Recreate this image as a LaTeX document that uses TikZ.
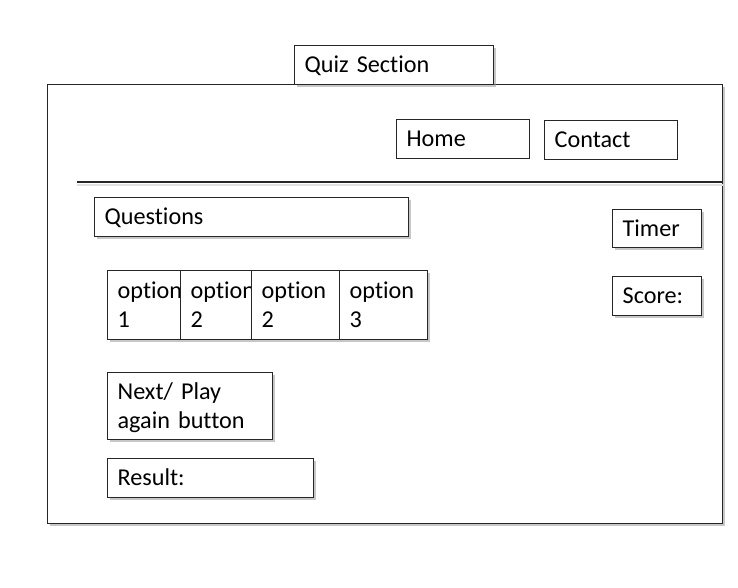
\documentclass[tikz,border=0pt]{standalone}
\usepackage{fontspec}
\setmainfont{Carlito}[Ligatures=NoCommon, WordSpace=0.75]
\usetikzlibrary{shadows}
\begin{document}
\begin{tikzpicture}[x=1pt,y=-1pt,
  box/.style={draw=black!85, line width=1.3pt, fill=white, anchor=north west,
    inner xsep=10pt, inner ysep=0pt, align=left,
    font=\fontsize{24.2}{29}\selectfont, text height=15.5pt, text depth=0pt},
  twoline/.style={text depth=29pt},
  shad/.style={drop shadow={shadow xshift=2.5pt, shadow yshift=-2.5pt, fill=black!40, opacity=0.55}},
  divider/.style={draw=black!85, line width=1.3pt},
  dividershadow/.style={draw=black!12, line width=2pt}
]
\useasboundingbox (0,0) rectangle (738,587);
% outer frame
\node[box, shad, minimum width=675pt, minimum height=439pt] (frame) at (47,84) {};
\node[box, shad, minimum width=199pt, minimum height=39pt, text width=179pt] (quiz) at (294,45) {Quiz Section};
% header buttons
\node[box, minimum width=133pt, minimum height=39pt, text width=113pt] (home) at (396,119) {Home};
\node[box, minimum width=133pt, minimum height=39pt, text width=113pt] (contact) at (544,120) {Contact};
% divider
\coordinate (divL) at (77,182);
\coordinate (divR) at (frame.east |- divL);
\draw[dividershadow] ([yshift=-2.5pt]divL) -- ([yshift=-2.5pt]divR);
\draw[divider] (divL) -- (divR);
% content
\node[box, shad, minimum width=314pt, minimum height=39pt, text width=294pt] (questions) at (94,197) {Questions};
\node[box, shad, minimum width=89pt, minimum height=38pt, text width=69pt] (timer) at (612,209) {Timer};
\node[box, shad, minimum width=89pt, minimum height=39pt, text width=69pt] (score) at (612,276) {Score:};
% options
\node[box, shad, twoline, minimum width=73pt, minimum height=69pt, text width=53pt] (opt1) at (107,270) {option\\1};
\node[box, shad, twoline, minimum width=71pt, minimum height=69pt, text width=51pt] (opt2a) at (180,270) {option\\2};
\node[box, shad, twoline, minimum width=88pt, minimum height=69pt, text width=68pt] (opt2b) at (251,270) {option\\2};
\node[box, shad, twoline, minimum width=88pt, minimum height=69pt, text width=68pt] (opt3) at (339,270) {option\\3};
% bottom
\node[box, shad, twoline, minimum width=165pt, minimum height=67pt, text width=145pt] (next) at (107,372) {Next/ Play\\again button};
\node[box, shad, minimum width=206pt, minimum height=39pt, text width=186pt] (result) at (107,458) {Result:};
\end{tikzpicture}
\end{document}
